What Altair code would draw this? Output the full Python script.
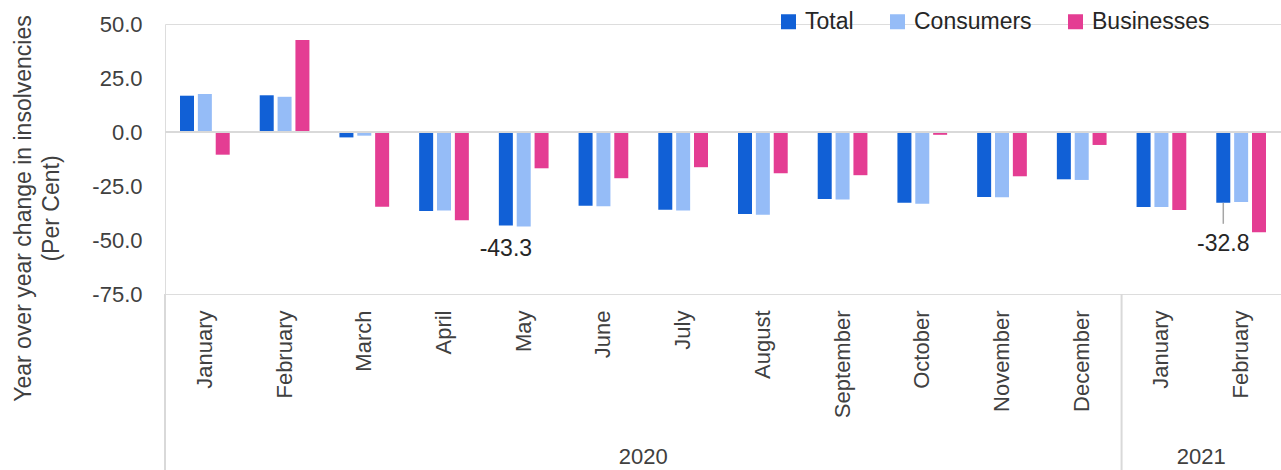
import altair as alt
import pandas as pd

# Months on the category axis (year kept in the key so January appears twice)
months = [
    "January 2020", "February 2020", "March 2020", "April 2020", "May 2020",
    "June 2020", "July 2020", "August 2020", "September 2020", "October 2020",
    "November 2020", "December 2020", "January 2021", "February 2021",
]
series = ["Total", "Consumers", "Businesses"]
colors = ["#1160D6", "#95BCF7", "#E43D93"]

# Year-over-year change in insolvencies, per cent
total = [16.8, 17.0, -2.5, -36.6, -43.3, -34.1, -36.0, -38.0, -31.0, -32.7, -30.1, -21.9, -34.7, -32.8]
consumers = [17.6, 16.3, -1.7, -36.4, -43.8, -34.4, -36.4, -38.3, -31.2, -33.2, -30.2, -22.2, -34.7, -32.4]
businesses = [-10.5, 42.6, -34.6, -40.9, -16.8, -21.4, -16.3, -19.1, -20.0, -1.3, -20.5, -6.0, -36.1, -46.4]

# Year group labels and where each year group starts
year_labels = ["2020", "2021"]
year_centres = ["July 2020", "February 2021"]
year_starts = ["January 2020", "January 2021"]

FONT = "Liberation Sans"
W, H = 1116, 270

rows = []
for name, vals in zip(series, [total, consumers, businesses]):
    for m, v in zip(months, vals):
        rows.append({"month": m, "series": name, "value": v, "label": f"{v:.1f}"})
df = pd.DataFrame(rows)

x_enc = alt.X(
    "month:N",
    scale=alt.Scale(domain=months, paddingInner=0, paddingOuter=0),
    axis=alt.Axis(
        title=None, labelAngle=270, domain=False, ticks=False, labelPadding=16,
        labelFont=FONT, labelFontSize=22, labelColor="#404040",
        labelExpr="split(datum.label, ' ')[0]",
    ),
)
xoff_enc = alt.XOffset(
    "series:N", sort=series,
    scale=alt.Scale(domain=series, paddingInner=0.216, paddingOuter=0.84),
)
y_enc = alt.Y(
    "value:Q",
    scale=alt.Scale(domain=[-75, 50], nice=False, zero=False),
    axis=alt.Axis(
        values=[-75, -50, -25, 0, 25, 50], grid=False,
        labelExpr="replace(format(datum.value, '.1f'), '\u2212', '-')",
        domain=False, ticks=False, labelPadding=23,
        labelFont=FONT, labelFontSize=22, labelColor="#404040",
        title=["Year over year change in insolvencies", "(Per Cent)"],
        titleFont=FONT, titleFontSize=23, titleFontWeight="normal",
        titleColor="#404040", titleAngle=270, titleAlign="center",
        titleBaseline="middle", titleLineHeight=28,
        titleX=-142, titleY=184,
    ),
)

bars = alt.Chart(df).mark_bar().encode(
    x=x_enc,
    xOffset=xoff_enc,
    y=y_enc,
    color=alt.Color(
        "series:N", sort=series,
        scale=alt.Scale(domain=series, range=colors),
        legend=alt.Legend(
            title=None, orient="none", legendX=612, legendY=-14,
            direction="horizontal", symbolType="square", symbolSize=225,
            symbolStrokeWidth=0, labelFont=FONT, labelFontSize=23,
            labelColor="#262626", labelOffset=5, columnPadding=32,
        ),
    ),
)

zero_line = alt.Chart(pd.DataFrame({"v": [0]})).mark_rule(
    color="#D9D9D9", strokeWidth=2
).encode(y="v:Q")

totals = df[df["series"] == "Total"]
may_lbl = totals[totals["month"] == "May 2020"]
feb_lbl = totals[totals["month"] == "February 2021"].assign(
    tail=lambda d: d["value"] - 9.7
)

may_text = alt.Chart(may_lbl).mark_text(
    font=FONT, fontSize=23, color="#262626", baseline="middle", dy=23
).encode(x="month:N", xOffset=xoff_enc, y="value:Q", text="label:N")

feb_leader = alt.Chart(feb_lbl).mark_rule(color="#A6A6A6", strokeWidth=1.5).encode(
    x="month:N", xOffset=xoff_enc, y="value:Q", y2="tail:Q"
)
feb_text = alt.Chart(feb_lbl).mark_text(
    font=FONT, fontSize=23, color="#262626", baseline="middle", dy=41
).encode(x="month:N", xOffset=xoff_enc, y="value:Q", text="label:N")

# Year row under the month labels, with separators between years
years_df = pd.DataFrame({"month": year_centres, "year": year_labels})
seps_df = pd.DataFrame({"month": year_starts})

year_text = alt.Chart(years_df).mark_text(
    font=FONT, fontSize=22, color="#404040", baseline="middle"
).encode(x=alt.X("month:N", bandPosition=0), y=alt.value(H + 163), text="year:N")

separators = alt.Chart(seps_df).mark_rule(color="#D9D9D9", strokeWidth=2).encode(
    x=alt.X("month:N", bandPosition=0), y=alt.value(H), y2=alt.value(H + 176)
)

chart = alt.layer(
    bars, zero_line, may_text, feb_leader, feb_text, year_text, separators
).properties(
    width=W, height=H,
    autosize=alt.AutoSizeParams(type="none"),
    padding={"left": 165, "top": 24, "right": 0, "bottom": 176},
).configure_view(stroke=None).configure(font=FONT)

chart.save("out.html", embed_options={"renderer": "svg", "actions": False})
